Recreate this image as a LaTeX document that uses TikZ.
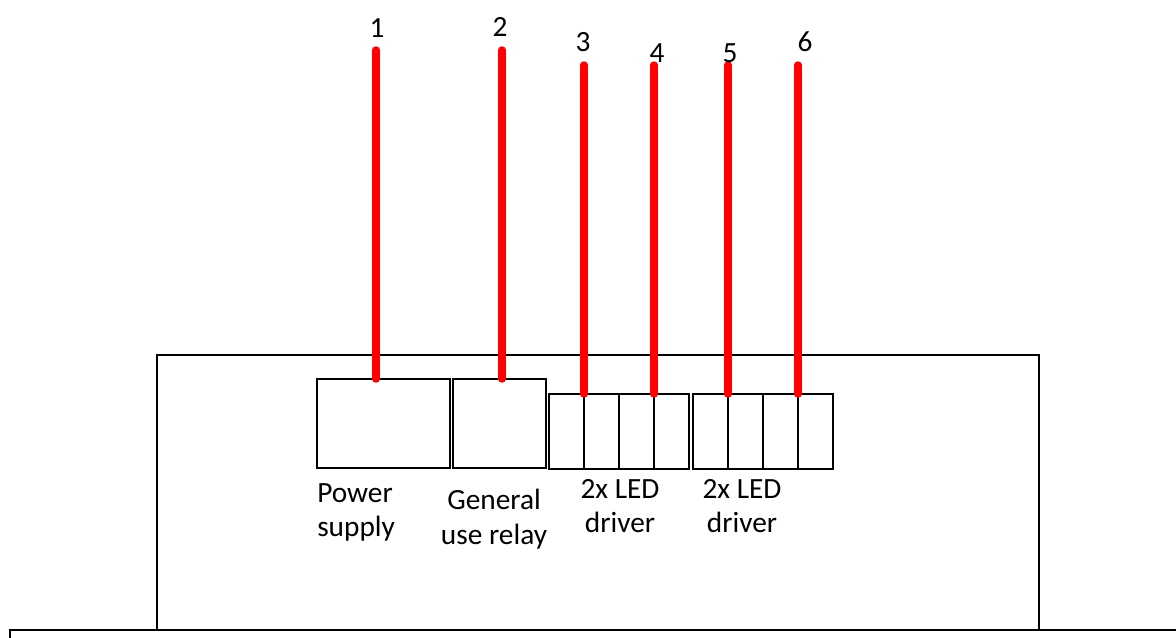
\documentclass[tikz,border=0pt]{standalone}
\usepackage{fontspec}
\setmainfont{Carlito}
\usepackage{tikz}
\usetikzlibrary{positioning}

\begin{document}
\begin{tikzpicture}[
		box/.style = { draw, black, line width=1.4pt, inner sep=0pt, outer sep=0pt },
		cell/.style = { box, minimum width=35*\oneUnit, minimum height=75*\oneUnit },
		wire/.style = { draw=red, line width=5.6pt, line cap=round },
		lbl/.style = { font=\fontsize{22}{26}\selectfont, inner sep=0pt },
		]
		\def\oneUnit{0.75pt}
		
		\useasboundingbox (0,0) rectangle (1176*\oneUnit,-637*\oneUnit);
		
		\node[box, minimum width=882*\oneUnit, minimum height=275*\oneUnit] (case) at (598*\oneUnit,-492.5*\oneUnit) {};
		\node[box, minimum width=1200*\oneUnit, minimum height=100*\oneUnit, anchor=north west] (base) at (10*\oneUnit,-630*\oneUnit) {};
		
		\node[box, minimum width=133*\oneUnit, minimum height=89*\oneUnit] (psu) at (383.5*\oneUnit,-423.5*\oneUnit) {};
		\node[box, minimum width=93*\oneUnit, minimum height=89*\oneUnit] (relay) at (499.5*\oneUnit,-423.5*\oneUnit) {};
		
		\node[cell] (ledA1) at (566.5*\oneUnit,-431.5*\oneUnit) {};
		\node[cell, right=0pt of ledA1] (ledA2) {};
		\node[cell, right=0pt of ledA2] (ledA3) {};
		\node[cell, right=0pt of ledA3] (ledA4) {};
		
		\node[cell] (ledB1) at (710.5*\oneUnit,-431.5*\oneUnit) {};
		\node[cell, right=0pt of ledB1] (ledB2) {};
		\node[cell, right=0pt of ledB2] (ledB3) {};
		\node[cell, right=0pt of ledB3] (ledB4) {};
		
		\coordinate (top12) at (0,-50*\oneUnit);
		\coordinate (top36) at (0,-65*\oneUnit);
		\coordinate (t1) at (376*\oneUnit,-50*\oneUnit);
		\coordinate (t2) at (502*\oneUnit,-50*\oneUnit);
		\coordinate (t3) at (ledA1.north east |- top36);
		\coordinate (t4) at (ledA3.north east |- top36);
		\coordinate (t5) at (ledB1.north east |- top36);
		\coordinate (t6) at (ledB3.north east |- top36);
		
		\path[wire] (t1) -- (t1 |- psu.north);
		\path[wire] (t2) -- (t2 |- relay.north);
		\path[wire] (t3) -- (ledA1.north east);
		\path[wire] (t4) -- (ledA3.north east);
		\path[wire] (t5) -- (ledB1.north east);
		\path[wire] (t6) -- (ledB3.north east);
		
		\node[lbl] (n1) at (377*\oneUnit,-28*\oneUnit) {1};
		\node[lbl] (n2) at (500*\oneUnit,-27*\oneUnit) {2};
		\node[lbl] (n3) at (583*\oneUnit,-42*\oneUnit) {3};
		\node[lbl] (n4) at (657*\oneUnit,-53*\oneUnit) {4};
		\node[lbl] (n5) at (730*\oneUnit,-53*\oneUnit) {5};
		\node[lbl] (n6) at (805*\oneUnit,-42*\oneUnit) {6};
		
		\node[lbl, align=left, anchor=north west] (psuText) at (317*\oneUnit,-483*\oneUnit) {Power\\supply};
		\node[lbl, align=center, anchor=north] (relayText) at (494*\oneUnit,-489*\oneUnit) {General\\use relay};
		\node[lbl, align=center, anchor=north] (ledAText) at (620*\oneUnit,-479*\oneUnit) {2x LED\\driver};
		\node[lbl, align=center, anchor=north] (ledBText) at (742*\oneUnit,-479*\oneUnit) {2x LED\\driver};
		
\end{tikzpicture}
\end{document}
